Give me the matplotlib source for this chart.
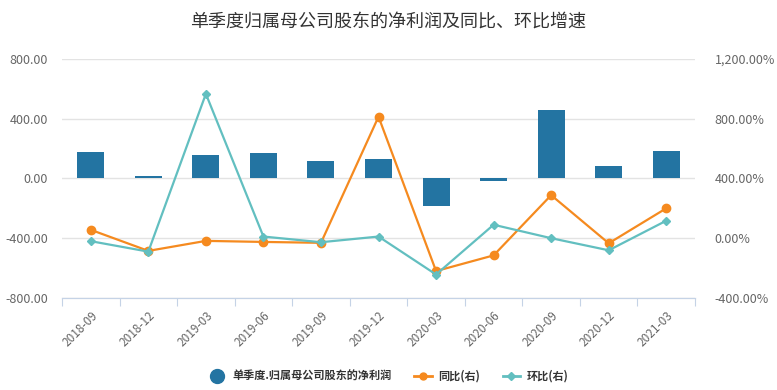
import matplotlib
matplotlib.use('Agg')
import matplotlib.pyplot as plt
from matplotlib.lines import Line2D
from matplotlib.ticker import FuncFormatter

plt.rcParams['font.family'] = ['Noto Sans CJK SC', 'DejaVu Sans']

# 数据
quarters = ['2018-09', '2018-12', '2019-03', '2019-06', '2019-09', '2019-12',
            '2020-03', '2020-06', '2020-09', '2020-12', '2021-03']
net_profit = [174, 16, 154, 168, 114, 127, -185, -18, 456, 80, 181]
yoy = [56, -85, -18, -25, -31, 813, -220, -115, 288, -34, 200]
qoq = [-20, -90, 966, 11, -27, 11, -243, 90, 0, -81, 117]

bar_color = '#2374a2'
yoy_color = '#f58a1f'
qoq_color = '#62bfc0'
grid_color = '#e3e3e3'
text_color = '#666666'

fig = plt.figure(figsize=(7.77, 3.9), dpi=100)
ax = fig.add_axes([0.0798, 0.236, 0.8147, 0.613])
ax2 = ax.twinx()

x = list(range(len(quarters)))
ax.bar(x, net_profit, width=0.47, color=bar_color, zorder=2)
ax.set_xlim(-0.5, len(quarters) - 0.5)
ax.set_ylim(-800, 800)
ax.set_yticks([-800, -400, 0, 400, 800])
ax.yaxis.set_major_formatter(FuncFormatter(lambda v, p: f'{v:,.2f}'))
ax.grid(axis='y', color=grid_color, linewidth=1, zorder=0)
ax.set_axisbelow(True)

ax2.plot(x, yoy, color=yoy_color, linewidth=1.6, marker='o', markersize=6, zorder=3)
ax2.plot(x, qoq, color=qoq_color, linewidth=1.6, marker='D', markersize=4, zorder=4)
ax2.set_ylim(-400, 1200)
ax2.set_yticks([-400, 0, 400, 800, 1200])
ax2.yaxis.set_major_formatter(FuncFormatter(lambda v, p: f'{v:,.2f}%'))

# 边框与刻度
for a in (ax, ax2):
    for s in ('top', 'left', 'right'):
        a.spines[s].set_visible(False)
    a.spines['bottom'].set_color('#c5d3e6')
    a.tick_params(axis='y', length=0, labelsize=9, colors=text_color, pad=10)
ax2.tick_params(axis='y', pad=14)

ax.set_xticks([i - 0.5 for i in range(len(quarters) + 1)], minor=False)
ax.set_xticklabels([''] * (len(quarters) + 1))
ax.tick_params(axis='x', length=6, color='#c5d3e6', direction='out')
ax.set_xticks(x, minor=True)
ax.set_xticklabels(quarters, minor=True, rotation=45, ha='right', rotation_mode='anchor')
ax.tick_params(axis='x', which='minor', length=0, labelsize=8.5, colors=text_color, pad=8)

fig.text(0.5, 0.945, '单季度归属母公司股东的净利润及同比、环比增速', ha='center', va='center',
         fontsize=13, color='#333333')

handles = [
    Line2D([], [], linestyle='none', marker='o', markersize=10, color=bar_color),
    Line2D([], [], color=yoy_color, linewidth=2, marker='o', markersize=5),
    Line2D([], [], color=qoq_color, linewidth=2, marker='D', markersize=4),
]
labels = ['单季度.归属母公司股东的净利润', '同比(右)', '环比(右)']
leg = fig.legend(handles, labels, loc='center', bbox_to_anchor=(0.5, 0.035), ncol=3,
                 frameon=False, fontsize=8, handlelength=1.6, columnspacing=2.0,
                 handletextpad=0.6)
for t in leg.get_texts():
    t.set_color('#333333')
    t.set_fontweight('bold')

fig.savefig('out.png', dpi=100)
